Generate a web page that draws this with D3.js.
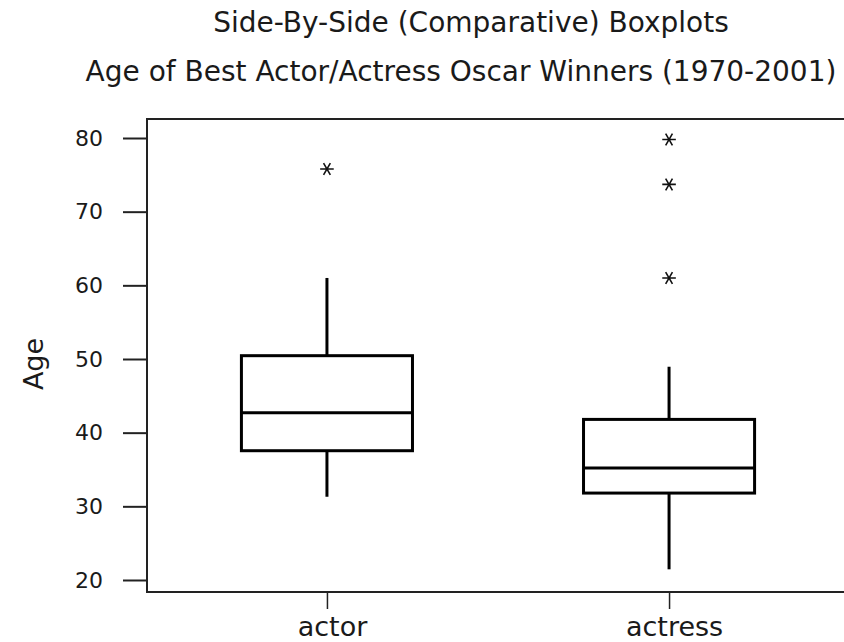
<!DOCTYPE html>
<html lang="en">
<head>
<meta charset="utf-8">
<title>Oscar winners boxplots</title>
<script src="https://d3js.org/d3.v7.min.js"></script>
<style>
  body { margin: 0; background: #fff; }
  text { font-family: "DejaVu Sans", sans-serif; fill: #1a1a1a; }
  .tick line { stroke: #222; stroke-width: 2px; }
</style>
</head>
<body>
<svg id="chart"></svg>
<script>
// boxplot summaries
const categories = ['actor', 'actress'],
  whiskerLow = [31.3, 21.45],
  q1 = [37.55, 31.8],
  median = [42.7, 35.2],
  q3 = [50.45, 41.8],
  whiskerHigh = [61.0, 48.95],
  outliers = [[75.8], [79.8, 73.7, 61.0]],
  yTicks = [20, 30, 40, 50, 60, 70, 80];

const width = 844, height = 642,
  margin = {top: 119, left: 147, bottom: 592, right: 849};

const svg = d3.select('#chart')
  .attr('width', width)
  .attr('height', height);

const x = d3.scalePoint()
  .domain(categories)
  .range([margin.left, margin.right])
  .padding(0.526);

const y = d3.scaleLinear()
  .domain([18.37, 82.58])
  .range([margin.bottom, margin.top]);

const boxW = x.step() * 0.5;

// titles
svg.append('text')
  .attr('x', 471).attr('y', 32)
  .attr('text-anchor', 'middle')
  .style('font-size', '28px')
  .text('Side-By-Side (Comparative) Boxplots');

svg.append('text')
  .attr('x', 461).attr('y', 81)
  .attr('text-anchor', 'middle')
  .style('font-size', '28px')
  .text('Age of Best Actor/Actress Oscar Winners (1970-2001)');

// axes
const yAxis = svg.append('g')
  .attr('transform', `translate(${margin.left},0)`)
  .call(d3.axisLeft(y).tickValues(yTicks).tickSize(24).tickPadding(20).tickFormat(d3.format('d')));
yAxis.select('.domain').remove();
yAxis.selectAll('text').style('font-size', '22px');

const xAxis = svg.append('g')
  .attr('transform', `translate(0,${margin.bottom})`)
  .call(d3.axisBottom(x).tickSize(17).tickPadding(8));
xAxis.select('.domain').remove();
xAxis.selectAll('.tick line').style('stroke-width', '1.5px');
xAxis.selectAll('text').style('font-size', '27px').attr('dx', 5);

// frame (right side runs off the page)
svg.append('path')
  .attr('d', `M${margin.right},${margin.top}H${margin.left}V${margin.bottom}H${margin.right}`)
  .attr('fill', 'none')
  .attr('stroke', '#222')
  .attr('stroke-width', 2);

svg.append('text')
  .attr('transform', `translate(43,364) rotate(-90)`)
  .attr('text-anchor', 'middle')
  .style('font-size', '27px')
  .text('Age');

// boxes
const g = svg.append('g')
  .attr('fill', 'none')
  .attr('stroke', '#000')
  .attr('stroke-width', 3);

categories.forEach((c, i) => {
  const cx = x(c);
  g.append('line')
    .attr('x1', cx).attr('x2', cx)
    .attr('y1', y(whiskerHigh[i])).attr('y2', y(q3[i]));
  g.append('line')
    .attr('x1', cx).attr('x2', cx)
    .attr('y1', y(q1[i])).attr('y2', y(whiskerLow[i]));
  g.append('rect')
    .attr('x', cx - boxW / 2)
    .attr('width', boxW)
    .attr('y', y(q3[i]))
    .attr('height', y(q1[i]) - y(q3[i]));
  g.append('line')
    .attr('x1', cx - boxW / 2).attr('x2', cx + boxW / 2)
    .attr('y1', y(median[i])).attr('y2', y(median[i]));

  svg.selectAll(null)
    .data(outliers[i])
    .enter().append('path')
    .attr('d', d3.symbol(d3.symbolAsterisk, 130))
    .attr('transform', d => `translate(${cx},${y(d)}) rotate(90)`)
    .attr('fill', 'none')
    .attr('stroke', '#111')
    .attr('stroke-width', 1.6);
});
</script>
</body>
</html>
